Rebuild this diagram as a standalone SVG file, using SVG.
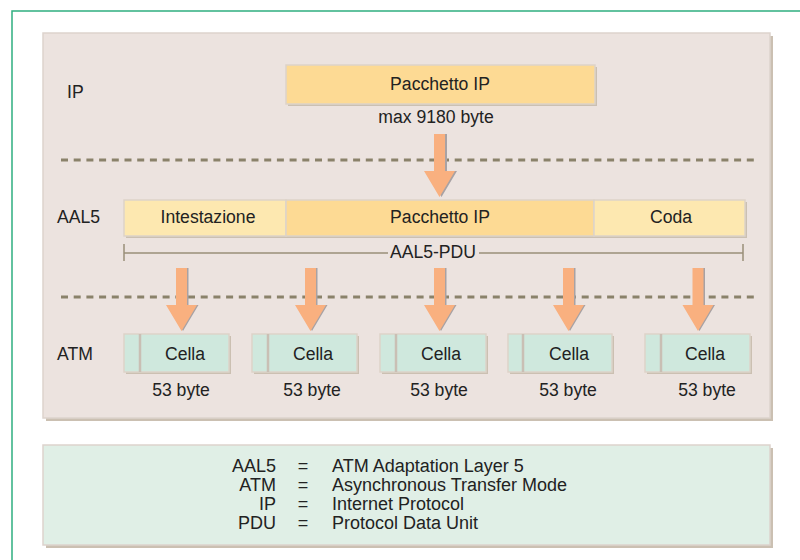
<svg xmlns="http://www.w3.org/2000/svg" width="800" height="560" viewBox="0 0 800 560">
<defs>
<style>
text{font-family:"Liberation Sans",Arial,sans-serif;fill:#222;font-size:17.6px}
.c{text-anchor:middle}
.r{text-anchor:end}
.sh{fill:#cbc0b2}
.box{stroke:#ddd3c9;stroke-width:1.5}
.pk{fill:#fdda94}
.lt{fill:#fde8b0}
.cell{fill:#cfe8dd}
.dash{stroke:#8a826a;stroke-width:3;stroke-dasharray:7 5.7;fill:none}
.arr{fill:#f9b07f}
.arrs{fill:#a8a2a4}
.lg text{font-size:18px}
</style>
<polygon id="arrowSmall" points="-5.5,0 5.5,0 5.5,37 15.5,37 0,63 -15.5,37 -5.5,37"/>
</defs>
<rect width="800" height="560" fill="#fff"/>
<rect x="12" y="11" width="800" height="560" fill="none" stroke="#2fae80" stroke-width="1.5"/>

<g id="panel">
<rect x="46" y="36" width="727" height="385" class="sh"/>
<rect x="43" y="33" width="727" height="385" fill="#ece3df" stroke="#ddd3cd" stroke-width="1.5"/>
</g>

<g id="separators">
<line x1="61" y1="160" x2="757" y2="160" class="dash"/>
<line x1="61" y1="297" x2="757" y2="297" class="dash"/>
</g>

<g id="labels">
<text x="67" y="98">IP</text>
<text x="57" y="223">AAL5</text>
<text x="57" y="360">ATM</text>
</g>

<g id="ip-packet">
<rect x="288" y="67" width="309" height="39" class="sh"/>
<rect x="286" y="65" width="309" height="39" class="box pk"/>
<text x="440" y="90" class="c">Pacchetto IP</text>
<text x="436" y="123" class="c">max 9180 byte</text>
</g>

<g id="aal5-pdu">
<rect x="126" y="202" width="621" height="36" class="sh"/>
<rect x="124" y="200" width="162" height="36" class="box lt"/>
<rect x="286" y="200" width="308" height="36" class="box pk"/>
<rect x="594" y="200" width="151" height="36" class="box lt"/>
<text x="208" y="223" class="c">Intestazione</text>
<text x="440" y="223" class="c">Pacchetto IP</text>
<text x="671" y="223" class="c">Coda</text>
</g>

<g id="pdu-span" stroke="#9a8f78" stroke-width="1.5">
<line x1="124" y1="253" x2="388" y2="253"/>
<line x1="479" y1="253" x2="743" y2="253"/>
<line x1="124" y1="244" x2="124" y2="261"/>
<line x1="743" y1="244" x2="743" y2="261"/>
<text x="433" y="258" class="c" stroke="none" font-size="15">AAL5-PDU</text>
</g>

<g id="connectors">
<polygon points="436,134 447,134 447,171 457,171 441.5,197 426,171 436,171" class="arrs"/>
<polygon points="434,134 445,134 445,171 455,171 439.5,197 424,171 434,171" class="arr"/>
<use href="#arrowSmall" x="183" y="268" class="arrs"/>
<use href="#arrowSmall" x="181.5" y="268" class="arr"/>
<use href="#arrowSmall" x="312" y="268" class="arrs"/>
<use href="#arrowSmall" x="310.5" y="268" class="arr"/>
<use href="#arrowSmall" x="441" y="268" class="arrs"/>
<use href="#arrowSmall" x="439.5" y="268" class="arr"/>
<use href="#arrowSmall" x="570" y="268" class="arrs"/>
<use href="#arrowSmall" x="568.5" y="268" class="arr"/>
<use href="#arrowSmall" x="699.5" y="268" class="arrs"/>
<use href="#arrowSmall" x="698" y="268" class="arr"/>
</g>

<g id="cell1">
<rect x="126" y="336" width="105" height="38" class="sh"/>
<rect x="124" y="334" width="105" height="38" class="box cell"/>
<line x1="140" y1="334" x2="140" y2="372" stroke="#c9bfb4" stroke-width="2.5"/>
<text x="185" y="360" class="c">Cella</text>
<text x="181" y="396" class="c">53 byte</text>
</g>
<g id="cell2">
<rect x="254" y="336" width="105" height="38" class="sh"/>
<rect x="252" y="334" width="105" height="38" class="box cell"/>
<line x1="268" y1="334" x2="268" y2="372" stroke="#c9bfb4" stroke-width="2.5"/>
<text x="313" y="360" class="c">Cella</text>
<text x="312" y="396" class="c">53 byte</text>
</g>
<g id="cell3">
<rect x="382" y="336" width="106" height="38" class="sh"/>
<rect x="380" y="334" width="106" height="38" class="box cell"/>
<line x1="396" y1="334" x2="396" y2="372" stroke="#c9bfb4" stroke-width="2.5"/>
<text x="441" y="360" class="c">Cella</text>
<text x="439" y="396" class="c">53 byte</text>
</g>
<g id="cell4">
<rect x="510" y="336" width="104" height="38" class="sh"/>
<rect x="508" y="334" width="104" height="38" class="box cell"/>
<line x1="523" y1="334" x2="523" y2="372" stroke="#c9bfb4" stroke-width="2.5"/>
<text x="569" y="360" class="c">Cella</text>
<text x="568" y="396" class="c">53 byte</text>
</g>
<g id="cell5">
<rect x="647" y="336" width="105" height="38" class="sh"/>
<rect x="645" y="334" width="105" height="38" class="box cell"/>
<line x1="661" y1="334" x2="661" y2="372" stroke="#c9bfb4" stroke-width="2.5"/>
<text x="705" y="360" class="c">Cella</text>
<text x="707" y="396" class="c">53 byte</text>
</g>

<g id="legend" class="lg">
<rect x="46" y="448" width="727" height="100" class="sh"/>
<rect x="43" y="445" width="727" height="100" fill="#e0efe6" stroke="#ddd3cd" stroke-width="1.5"/>
<text x="276" y="472" class="r">AAL5</text>
<text x="303" y="472" class="c">=</text>
<text x="332" y="472">ATM Adaptation Layer 5</text>
<text x="276" y="491" class="r">ATM</text>
<text x="303" y="491" class="c">=</text>
<text x="332" y="491">Asynchronous Transfer Mode</text>
<text x="276" y="510" class="r">IP</text>
<text x="303" y="510" class="c">=</text>
<text x="332" y="510">Internet Protocol</text>
<text x="276" y="529" class="r">PDU</text>
<text x="303" y="529" class="c">=</text>
<text x="332" y="529">Protocol Data Unit</text>
</g>
</svg>
